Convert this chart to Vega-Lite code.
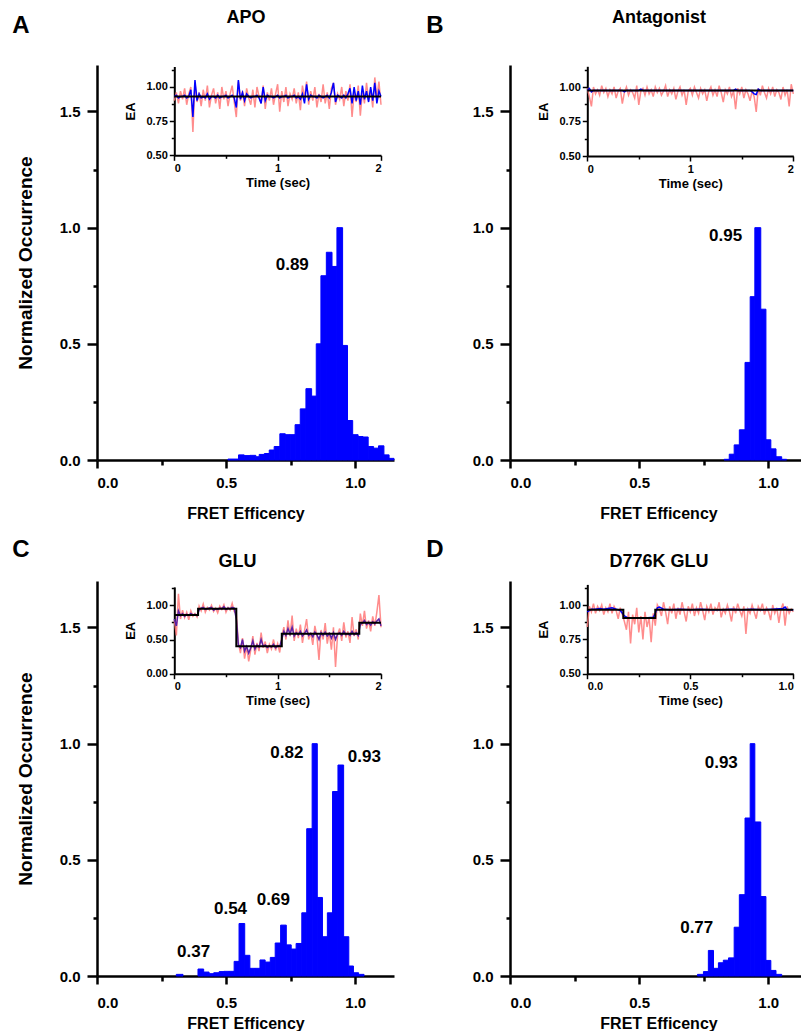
{
"$schema": "https://vega.github.io/schema/vega-lite/v6.json",
"padding": {"left": 12, "top": 8, "right": 0, "bottom": 0},
"config": {
 "font": "Liberation Sans",
 "view": {"stroke": null},
 "title": {"fontWeight": "bold", "fontSize": 24, "color": "black", "anchor": "start", "frame": "bounds"},
 "axis": {"grid": false, "domainColor": "black", "tickColor": "black", "labelColor": "black", "titleColor": "black", "labelFontWeight": "bold", "titleFontWeight": "bold", "labelFont": "Liberation Sans", "titleFont": "Liberation Sans"}
},
"datasets": {
 "histA": [{"x0":0.507,"x1":0.548,"h":0.004},{"x0":0.548,"x1":0.570,"h":0.022},{"x0":0.570,"x1":0.592,"h":0.019},{"x0":0.592,"x1":0.615,"h":0.020},{"x0":0.615,"x1":0.628,"h":0.014},{"x0":0.628,"x1":0.648,"h":0.024},{"x0":0.648,"x1":0.667,"h":0.028},{"x0":0.667,"x1":0.686,"h":0.043},{"x0":0.686,"x1":0.708,"h":0.058},{"x0":0.708,"x1":0.729,"h":0.113},{"x0":0.729,"x1":0.748,"h":0.109},{"x0":0.748,"x1":0.767,"h":0.109},{"x0":0.767,"x1":0.787,"h":0.152},{"x0":0.787,"x1":0.809,"h":0.22},{"x0":0.809,"x1":0.831,"h":0.307},{"x0":0.831,"x1":0.849,"h":0.275},{"x0":0.849,"x1":0.867,"h":0.5},{"x0":0.867,"x1":0.888,"h":0.793},{"x0":0.888,"x1":0.910,"h":0.894},{"x0":0.910,"x1":0.929,"h":0.833},{"x0":0.929,"x1":0.951,"h":1.0},{"x0":0.951,"x1":0.970,"h":0.493},{"x0":0.970,"x1":0.990,"h":0.17},{"x0":0.990,"x1":1.011,"h":0.109},{"x0":1.011,"x1":1.030,"h":0.101},{"x0":1.030,"x1":1.050,"h":0.099},{"x0":1.050,"x1":1.071,"h":0.058},{"x0":1.071,"x1":1.090,"h":0.051},{"x0":1.090,"x1":1.111,"h":0.061},{"x0":1.111,"x1":1.131,"h":0.022},{"x0":1.131,"x1":1.150,"h":0.007}],
 "histB": [{"x0":0.829,"x1":0.849,"h":0.003},{"x0":0.849,"x1":0.868,"h":0.025},{"x0":0.868,"x1":0.888,"h":0.065},{"x0":0.888,"x1":0.910,"h":0.13},{"x0":0.910,"x1":0.930,"h":0.42},{"x0":0.930,"x1":0.948,"h":0.703},{"x0":0.948,"x1":0.971,"h":1.0},{"x0":0.971,"x1":0.991,"h":0.649},{"x0":0.991,"x1":1.010,"h":0.087},{"x0":1.010,"x1":1.030,"h":0.048},{"x0":1.030,"x1":1.052,"h":0.014},{"x0":1.052,"x1":1.071,"h":0.003}],
 "histC": [{"x0":0.307,"x1":0.333,"h":0.007},{"x0":0.391,"x1":0.413,"h":0.03},{"x0":0.413,"x1":0.434,"h":0.017},{"x0":0.434,"x1":0.452,"h":0.01},{"x0":0.452,"x1":0.473,"h":0.014},{"x0":0.473,"x1":0.491,"h":0.019},{"x0":0.491,"x1":0.511,"h":0.02},{"x0":0.511,"x1":0.531,"h":0.02},{"x0":0.531,"x1":0.550,"h":0.063},{"x0":0.550,"x1":0.572,"h":0.226},{"x0":0.572,"x1":0.592,"h":0.089},{"x0":0.592,"x1":0.611,"h":0.033},{"x0":0.611,"x1":0.631,"h":0.033},{"x0":0.631,"x1":0.651,"h":0.069},{"x0":0.651,"x1":0.671,"h":0.06},{"x0":0.671,"x1":0.690,"h":0.08},{"x0":0.690,"x1":0.711,"h":0.142},{"x0":0.711,"x1":0.733,"h":0.219},{"x0":0.733,"x1":0.752,"h":0.134},{"x0":0.752,"x1":0.771,"h":0.116},{"x0":0.771,"x1":0.793,"h":0.14},{"x0":0.793,"x1":0.812,"h":0.272},{"x0":0.812,"x1":0.833,"h":0.634},{"x0":0.833,"x1":0.853,"h":1.0},{"x0":0.853,"x1":0.873,"h":0.338},{"x0":0.873,"x1":0.892,"h":0.169},{"x0":0.892,"x1":0.912,"h":0.272},{"x0":0.912,"x1":0.933,"h":0.794},{"x0":0.933,"x1":0.955,"h":0.908},{"x0":0.955,"x1":0.975,"h":0.169},{"x0":0.975,"x1":0.993,"h":0.043},{"x0":0.993,"x1":1.013,"h":0.014},{"x0":1.013,"x1":1.034,"h":0.007}],
 "histD": [{"x0":0.726,"x1":0.749,"h":0.007},{"x0":0.749,"x1":0.768,"h":0.019},{"x0":0.768,"x1":0.788,"h":0.11},{"x0":0.788,"x1":0.807,"h":0.033},{"x0":0.807,"x1":0.826,"h":0.057},{"x0":0.826,"x1":0.846,"h":0.068},{"x0":0.846,"x1":0.868,"h":0.078},{"x0":0.868,"x1":0.888,"h":0.21},{"x0":0.888,"x1":0.910,"h":0.35},{"x0":0.910,"x1":0.930,"h":0.68},{"x0":0.930,"x1":0.948,"h":1.0},{"x0":0.948,"x1":0.971,"h":0.663},{"x0":0.971,"x1":0.991,"h":0.342},{"x0":0.991,"x1":1.010,"h":0.067},{"x0":1.010,"x1":1.030,"h":0.024},{"x0":1.030,"x1":1.052,"h":0.007}],
 "redA": [{"t":0,"e":0.90},{"t":0.02,"e":0.96},{"t":0.04,"e":0.88},{"t":0.06,"e":0.97},{"t":0.08,"e":0.91},{"t":0.1,"e":0.99},{"t":0.12,"e":0.87},{"t":0.14,"e":0.95},{"t":0.16,"e":1.0},{"t":0.18,"e":0.67},{"t":0.2,"e":1.03},{"t":0.22,"e":0.89},{"t":0.24,"e":0.96},{"t":0.26,"e":0.86},{"t":0.28,"e":0.98},{"t":0.3,"e":0.9},{"t":0.32,"e":1.01},{"t":0.34,"e":0.85},{"t":0.36,"e":0.94},{"t":0.38,"e":0.99},{"t":0.4,"e":0.88},{"t":0.42,"e":0.96},{"t":0.44,"e":0.84},{"t":0.46,"e":1.0},{"t":0.48,"e":0.91},{"t":0.5,"e":0.97},{"t":0.52,"e":0.86},{"t":0.54,"e":0.95},{"t":0.56,"e":1.01},{"t":0.58,"e":0.89},{"t":0.6,"e":0.78},{"t":0.62,"e":1.04},{"t":0.64,"e":0.9},{"t":0.66,"e":0.97},{"t":0.68,"e":0.86},{"t":0.7,"e":0.99},{"t":0.72,"e":0.92},{"t":0.74,"e":0.87},{"t":0.76,"e":0.98},{"t":0.78,"e":0.85},{"t":0.8,"e":1.0},{"t":0.82,"e":0.93},{"t":0.84,"e":0.88},{"t":0.86,"e":1.01},{"t":0.88,"e":0.84},{"t":0.9,"e":0.96},{"t":0.92,"e":0.9},{"t":0.94,"e":0.99},{"t":0.96,"e":0.87},{"t":0.98,"e":0.95},{"t":1.0,"e":1.02},{"t":1.02,"e":0.82},{"t":1.04,"e":0.97},{"t":1.06,"e":0.89},{"t":1.08,"e":1.0},{"t":1.1,"e":0.86},{"t":1.12,"e":0.95},{"t":1.14,"e":0.91},{"t":1.16,"e":0.99},{"t":1.18,"e":0.88},{"t":1.2,"e":0.96},{"t":1.22,"e":0.83},{"t":1.24,"e":1.01},{"t":1.26,"e":0.92},{"t":1.28,"e":1.04},{"t":1.3,"e":0.87},{"t":1.32,"e":0.97},{"t":1.34,"e":0.9},{"t":1.36,"e":1.0},{"t":1.38,"e":0.85},{"t":1.4,"e":0.95},{"t":1.42,"e":0.89},{"t":1.44,"e":1.02},{"t":1.46,"e":0.88},{"t":1.48,"e":0.96},{"t":1.5,"e":0.84},{"t":1.52,"e":0.99},{"t":1.54,"e":1.03},{"t":1.56,"e":0.87},{"t":1.58,"e":0.95},{"t":1.6,"e":0.91},{"t":1.62,"e":1.0},{"t":1.64,"e":0.86},{"t":1.66,"e":0.97},{"t":1.68,"e":0.9},{"t":1.7,"e":1.02},{"t":1.72,"e":0.78},{"t":1.74,"e":0.96},{"t":1.76,"e":0.89},{"t":1.78,"e":1.01},{"t":1.8,"e":0.79},{"t":1.82,"e":0.97},{"t":1.84,"e":0.88},{"t":1.86,"e":1.03},{"t":1.88,"e":0.9},{"t":1.9,"e":0.98},{"t":1.92,"e":0.85},{"t":1.94,"e":1.07},{"t":1.96,"e":0.92},{"t":1.98,"e":1.04},{"t":2.0,"e":0.87}],
 "blueA": [{"t":0,"e":0.93},{"t":0.02,"e":0.94},{"t":0.04,"e":0.92},{"t":0.06,"e":0.93},{"t":0.08,"e":0.93},{"t":0.1,"e":0.94},{"t":0.12,"e":0.92},{"t":0.14,"e":0.93},{"t":0.16,"e":0.98},{"t":0.18,"e":0.78},{"t":0.2,"e":1.05},{"t":0.22,"e":0.9},{"t":0.24,"e":0.95},{"t":0.26,"e":0.92},{"t":0.28,"e":0.93},{"t":0.3,"e":0.92},{"t":0.32,"e":0.95},{"t":0.34,"e":0.91},{"t":0.36,"e":0.93},{"t":0.38,"e":0.93},{"t":0.4,"e":0.92},{"t":0.42,"e":0.94},{"t":0.44,"e":0.92},{"t":0.46,"e":0.93},{"t":0.48,"e":0.93},{"t":0.5,"e":0.94},{"t":0.52,"e":0.92},{"t":0.54,"e":0.93},{"t":0.56,"e":0.94},{"t":0.58,"e":0.92},{"t":0.6,"e":0.85},{"t":0.62,"e":1.05},{"t":0.64,"e":0.91},{"t":0.66,"e":0.96},{"t":0.68,"e":0.9},{"t":0.7,"e":0.95},{"t":0.72,"e":0.93},{"t":0.74,"e":0.92},{"t":0.76,"e":0.93},{"t":0.78,"e":0.93},{"t":0.8,"e":0.94},{"t":0.82,"e":0.92},{"t":0.84,"e":0.88},{"t":0.86,"e":1.0},{"t":0.88,"e":0.9},{"t":0.9,"e":0.94},{"t":0.92,"e":0.93},{"t":0.94,"e":0.93},{"t":0.96,"e":0.92},{"t":0.98,"e":0.93},{"t":1.0,"e":0.94},{"t":1.02,"e":0.92},{"t":1.04,"e":0.93},{"t":1.06,"e":0.93},{"t":1.08,"e":0.94},{"t":1.1,"e":0.92},{"t":1.12,"e":0.93},{"t":1.14,"e":0.93},{"t":1.16,"e":0.94},{"t":1.18,"e":0.92},{"t":1.2,"e":0.93},{"t":1.22,"e":0.91},{"t":1.24,"e":0.95},{"t":1.26,"e":0.88},{"t":1.28,"e":1.02},{"t":1.3,"e":0.91},{"t":1.32,"e":0.94},{"t":1.34,"e":0.93},{"t":1.36,"e":0.93},{"t":1.38,"e":0.92},{"t":1.4,"e":0.94},{"t":1.42,"e":0.93},{"t":1.44,"e":0.92},{"t":1.46,"e":0.93},{"t":1.48,"e":0.94},{"t":1.5,"e":0.92},{"t":1.52,"e":0.96},{"t":1.54,"e":1.03},{"t":1.56,"e":0.89},{"t":1.58,"e":0.94},{"t":1.6,"e":0.93},{"t":1.62,"e":0.92},{"t":1.64,"e":0.94},{"t":1.66,"e":0.92},{"t":1.68,"e":0.95},{"t":1.7,"e":0.99},{"t":1.72,"e":0.88},{"t":1.74,"e":1.0},{"t":1.76,"e":0.9},{"t":1.78,"e":0.97},{"t":1.8,"e":0.87},{"t":1.82,"e":1.01},{"t":1.84,"e":0.91},{"t":1.86,"e":0.97},{"t":1.88,"e":0.89},{"t":1.9,"e":1.0},{"t":1.92,"e":0.9},{"t":1.94,"e":1.03},{"t":1.96,"e":0.88},{"t":1.98,"e":0.97},{"t":2.0,"e":0.93}],
 "fitA": [{"t":0,"e":0.93},{"t":2,"e":0.93}],
 "redB": [{"t":0,"e":0.99},{"t":0.02,"e":0.93},{"t":0.04,"e":0.86},{"t":0.06,"e":1.0},{"t":0.08,"e":0.95},{"t":0.1,"e":0.98},{"t":0.12,"e":0.94},{"t":0.14,"e":1.01},{"t":0.16,"e":0.96},{"t":0.18,"e":0.99},{"t":0.2,"e":0.93},{"t":0.22,"e":0.98},{"t":0.24,"e":0.95},{"t":0.26,"e":1.0},{"t":0.28,"e":0.92},{"t":0.3,"e":0.97},{"t":0.32,"e":0.99},{"t":0.34,"e":0.88},{"t":0.36,"e":0.96},{"t":0.38,"e":1.0},{"t":0.4,"e":0.94},{"t":0.42,"e":0.98},{"t":0.44,"e":0.96},{"t":0.46,"e":0.92},{"t":0.48,"e":1.01},{"t":0.5,"e":0.87},{"t":0.52,"e":0.97},{"t":0.54,"e":0.99},{"t":0.56,"e":0.94},{"t":0.58,"e":1.0},{"t":0.6,"e":0.95},{"t":0.62,"e":0.98},{"t":0.64,"e":0.93},{"t":0.66,"e":1.0},{"t":0.68,"e":0.96},{"t":0.7,"e":0.99},{"t":0.72,"e":0.94},{"t":0.74,"e":0.97},{"t":0.76,"e":1.01},{"t":0.78,"e":0.93},{"t":0.8,"e":0.98},{"t":0.82,"e":0.95},{"t":0.84,"e":0.99},{"t":0.86,"e":0.91},{"t":0.88,"e":0.97},{"t":0.9,"e":1.0},{"t":0.92,"e":0.94},{"t":0.94,"e":0.98},{"t":0.96,"e":0.87},{"t":0.98,"e":0.97},{"t":1.0,"e":0.99},{"t":1.02,"e":0.94},{"t":1.04,"e":1.0},{"t":1.06,"e":0.96},{"t":1.08,"e":0.92},{"t":1.1,"e":0.99},{"t":1.12,"e":0.95},{"t":1.14,"e":0.98},{"t":1.16,"e":0.9},{"t":1.18,"e":0.97},{"t":1.2,"e":1.0},{"t":1.22,"e":0.94},{"t":1.24,"e":0.98},{"t":1.26,"e":0.93},{"t":1.28,"e":1.01},{"t":1.3,"e":0.96},{"t":1.32,"e":0.89},{"t":1.34,"e":0.98},{"t":1.36,"e":0.95},{"t":1.38,"e":1.0},{"t":1.4,"e":0.93},{"t":1.42,"e":0.97},{"t":1.44,"e":0.84},{"t":1.46,"e":0.99},{"t":1.48,"e":0.95},{"t":1.5,"e":1.0},{"t":1.52,"e":0.92},{"t":1.54,"e":0.98},{"t":1.56,"e":0.95},{"t":1.58,"e":0.9},{"t":1.6,"e":0.97},{"t":1.62,"e":0.93},{"t":1.64,"e":0.82},{"t":1.66,"e":0.99},{"t":1.68,"e":0.94},{"t":1.7,"e":1.01},{"t":1.72,"e":0.96},{"t":1.74,"e":0.92},{"t":1.76,"e":0.99},{"t":1.78,"e":0.95},{"t":1.8,"e":1.0},{"t":1.82,"e":0.93},{"t":1.84,"e":0.98},{"t":1.86,"e":0.96},{"t":1.88,"e":0.91},{"t":1.9,"e":1.0},{"t":1.92,"e":0.94},{"t":1.94,"e":0.98},{"t":1.96,"e":0.86},{"t":1.98,"e":1.02},{"t":2.0,"e":0.95}],
 "blueB": [{"t":0,"e":0.975},{"t":0.02,"e":0.99},{"t":0.04,"e":0.965},{"t":0.06,"e":0.975},{"t":0.34,"e":0.975},{"t":0.36,"e":0.965},{"t":0.38,"e":0.975},{"t":0.5,"e":0.975},{"t":0.52,"e":0.985},{"t":0.54,"e":0.975},{"t":1.42,"e":0.975},{"t":1.44,"e":0.985},{"t":1.46,"e":0.975},{"t":1.58,"e":0.975},{"t":1.6,"e":0.965},{"t":1.62,"e":0.95},{"t":1.64,"e":0.945},{"t":1.66,"e":0.985},{"t":1.68,"e":0.975},{"t":2.0,"e":0.975}],
 "fitB": [{"t":0,"e":0.975},{"t":2,"e":0.975}],
 "redC": [{"t":0,"e":0.78},{"t":0.02,"e":0.56},{"t":0.04,"e":1.17},{"t":0.06,"e":0.8},{"t":0.08,"e":0.93},{"t":0.1,"e":0.82},{"t":0.12,"e":0.9},{"t":0.14,"e":0.79},{"t":0.16,"e":0.92},{"t":0.18,"e":0.84},{"t":0.2,"e":0.88},{"t":0.22,"e":0.83},{"t":0.24,"e":0.99},{"t":0.26,"e":0.92},{"t":0.28,"e":1.02},{"t":0.3,"e":0.9},{"t":0.32,"e":0.97},{"t":0.34,"e":0.93},{"t":0.36,"e":1.0},{"t":0.38,"e":0.91},{"t":0.4,"e":0.96},{"t":0.42,"e":0.89},{"t":0.44,"e":0.99},{"t":0.46,"e":0.94},{"t":0.48,"e":1.01},{"t":0.5,"e":0.9},{"t":0.52,"e":0.97},{"t":0.54,"e":0.93},{"t":0.56,"e":1.03},{"t":0.58,"e":0.91},{"t":0.6,"e":0.88},{"t":0.62,"e":0.45},{"t":0.64,"e":0.3},{"t":0.66,"e":0.52},{"t":0.68,"e":0.22},{"t":0.7,"e":0.4},{"t":0.72,"e":0.18},{"t":0.74,"e":0.35},{"t":0.76,"e":0.55},{"t":0.78,"e":0.28},{"t":0.8,"e":0.45},{"t":0.82,"e":0.33},{"t":0.84,"e":0.6},{"t":0.86,"e":0.38},{"t":0.88,"e":0.47},{"t":0.9,"e":0.3},{"t":0.92,"e":0.43},{"t":0.94,"e":0.36},{"t":0.96,"e":0.5},{"t":0.98,"e":0.34},{"t":1.0,"e":0.44},{"t":1.02,"e":0.31},{"t":1.04,"e":0.55},{"t":1.06,"e":0.68},{"t":1.08,"e":0.5},{"t":1.1,"e":0.78},{"t":1.12,"e":0.55},{"t":1.14,"e":0.85},{"t":1.16,"e":0.48},{"t":1.18,"e":0.66},{"t":1.2,"e":0.52},{"t":1.22,"e":0.72},{"t":1.24,"e":0.45},{"t":1.26,"e":0.63},{"t":1.28,"e":0.8},{"t":1.3,"e":0.5},{"t":1.32,"e":0.6},{"t":1.34,"e":0.42},{"t":1.36,"e":0.7},{"t":1.38,"e":0.55},{"t":1.4,"e":0.2},{"t":1.42,"e":0.64},{"t":1.44,"e":0.5},{"t":1.46,"e":0.74},{"t":1.48,"e":0.44},{"t":1.5,"e":0.61},{"t":1.52,"e":0.35},{"t":1.54,"e":0.68},{"t":1.56,"e":0.1},{"t":1.58,"e":0.57},{"t":1.6,"e":0.66},{"t":1.62,"e":0.48},{"t":1.64,"e":0.75},{"t":1.66,"e":0.53},{"t":1.68,"e":0.62},{"t":1.7,"e":0.45},{"t":1.72,"e":0.83},{"t":1.74,"e":0.55},{"t":1.76,"e":0.65},{"t":1.78,"e":0.5},{"t":1.8,"e":0.88},{"t":1.82,"e":0.7},{"t":1.84,"e":0.92},{"t":1.86,"e":0.66},{"t":1.88,"e":0.78},{"t":1.9,"e":0.62},{"t":1.92,"e":0.84},{"t":1.94,"e":0.7},{"t":1.96,"e":0.9},{"t":1.98,"e":1.15},{"t":2.0,"e":0.68}],
 "purC": [{"t":0,"e":0.8},{"t":0.02,"e":0.7},{"t":0.04,"e":0.92},{"t":0.06,"e":0.85},{"t":0.08,"e":0.88},{"t":0.1,"e":0.84},{"t":0.12,"e":0.87},{"t":0.14,"e":0.85},{"t":0.16,"e":0.88},{"t":0.18,"e":0.86},{"t":0.2,"e":0.87},{"t":0.22,"e":0.85},{"t":0.24,"e":0.93},{"t":0.26,"e":0.96},{"t":0.28,"e":0.97},{"t":0.3,"e":0.94},{"t":0.32,"e":0.95},{"t":0.34,"e":0.96},{"t":0.36,"e":0.97},{"t":0.38,"e":0.93},{"t":0.4,"e":0.95},{"t":0.42,"e":0.94},{"t":0.44,"e":0.96},{"t":0.46,"e":0.95},{"t":0.48,"e":0.98},{"t":0.5,"e":0.94},{"t":0.52,"e":0.96},{"t":0.54,"e":0.95},{"t":0.56,"e":0.97},{"t":0.58,"e":0.96},{"t":0.6,"e":0.8},{"t":0.62,"e":0.42},{"t":0.64,"e":0.38},{"t":0.66,"e":0.5},{"t":0.68,"e":0.33},{"t":0.7,"e":0.4},{"t":0.72,"e":0.3},{"t":0.74,"e":0.38},{"t":0.76,"e":0.48},{"t":0.78,"e":0.36},{"t":0.8,"e":0.42},{"t":0.82,"e":0.39},{"t":0.84,"e":0.5},{"t":0.86,"e":0.4},{"t":0.88,"e":0.42},{"t":0.9,"e":0.38},{"t":0.92,"e":0.41},{"t":0.94,"e":0.39},{"t":0.96,"e":0.43},{"t":0.98,"e":0.38},{"t":1.0,"e":0.41},{"t":1.02,"e":0.4},{"t":1.04,"e":0.5},{"t":1.06,"e":0.62},{"t":1.08,"e":0.56},{"t":1.1,"e":0.66},{"t":1.12,"e":0.58},{"t":1.14,"e":0.68},{"t":1.16,"e":0.55},{"t":1.18,"e":0.6},{"t":1.2,"e":0.57},{"t":1.22,"e":0.62},{"t":1.24,"e":0.55},{"t":1.26,"e":0.59},{"t":1.28,"e":0.64},{"t":1.3,"e":0.56},{"t":1.32,"e":0.59},{"t":1.34,"e":0.54},{"t":1.36,"e":0.61},{"t":1.38,"e":0.57},{"t":1.4,"e":0.5},{"t":1.42,"e":0.6},{"t":1.44,"e":0.56},{"t":1.46,"e":0.61},{"t":1.48,"e":0.55},{"t":1.5,"e":0.59},{"t":1.52,"e":0.52},{"t":1.54,"e":0.6},{"t":1.56,"e":0.5},{"t":1.58,"e":0.58},{"t":1.6,"e":0.6},{"t":1.62,"e":0.56},{"t":1.64,"e":0.62},{"t":1.66,"e":0.57},{"t":1.68,"e":0.59},{"t":1.7,"e":0.56},{"t":1.72,"e":0.62},{"t":1.74,"e":0.57},{"t":1.76,"e":0.6},{"t":1.78,"e":0.56},{"t":1.8,"e":0.72},{"t":1.82,"e":0.74},{"t":1.84,"e":0.78},{"t":1.86,"e":0.72},{"t":1.88,"e":0.75},{"t":1.9,"e":0.71},{"t":1.92,"e":0.76},{"t":1.94,"e":0.73},{"t":1.96,"e":0.77},{"t":1.98,"e":0.8},{"t":2.0,"e":0.7}],
 "fitC": [{"t":0,"e":0.86},{"t":0.23,"e":0.95},{"t":0.6,"e":0.4},{"t":1.04,"e":0.585},{"t":1.79,"e":0.745},{"t":2.0,"e":0.745}],
 "redD": [{"t":0,"e":0.84},{"t":0.01,"e":0.99},{"t":0.02,"e":0.95},{"t":0.03,"e":1.01},{"t":0.04,"e":0.94},{"t":0.05,"e":0.99},{"t":0.06,"e":0.96},{"t":0.07,"e":1.0},{"t":0.08,"e":0.93},{"t":0.09,"e":0.98},{"t":0.1,"e":0.95},{"t":0.11,"e":1.01},{"t":0.12,"e":0.94},{"t":0.13,"e":0.99},{"t":0.14,"e":0.96},{"t":0.15,"e":0.9},{"t":0.16,"e":0.98},{"t":0.17,"e":0.93},{"t":0.18,"e":0.88},{"t":0.19,"e":0.82},{"t":0.2,"e":0.95},{"t":0.21,"e":0.72},{"t":0.22,"e":0.93},{"t":0.23,"e":0.86},{"t":0.24,"e":0.98},{"t":0.25,"e":0.8},{"t":0.26,"e":0.92},{"t":0.27,"e":0.75},{"t":0.28,"e":0.95},{"t":0.29,"e":0.84},{"t":0.3,"e":0.91},{"t":0.31,"e":0.73},{"t":0.32,"e":0.94},{"t":0.33,"e":0.85},{"t":0.34,"e":1.0},{"t":0.35,"e":0.97},{"t":0.36,"e":0.92},{"t":0.37,"e":1.02},{"t":0.38,"e":0.95},{"t":0.39,"e":0.86},{"t":0.4,"e":0.99},{"t":0.41,"e":0.94},{"t":0.42,"e":1.01},{"t":0.43,"e":0.9},{"t":0.44,"e":0.98},{"t":0.45,"e":0.93},{"t":0.46,"e":1.02},{"t":0.47,"e":0.95},{"t":0.48,"e":0.88},{"t":0.49,"e":0.99},{"t":0.5,"e":0.95},{"t":0.51,"e":1.01},{"t":0.52,"e":0.92},{"t":0.53,"e":0.98},{"t":0.54,"e":0.94},{"t":0.55,"e":1.02},{"t":0.56,"e":0.96},{"t":0.57,"e":0.89},{"t":0.58,"e":0.99},{"t":0.59,"e":0.95},{"t":0.6,"e":1.01},{"t":0.61,"e":0.93},{"t":0.62,"e":0.98},{"t":0.63,"e":0.96},{"t":0.64,"e":1.02},{"t":0.65,"e":0.91},{"t":0.66,"e":0.97},{"t":0.67,"e":0.94},{"t":0.68,"e":1.0},{"t":0.69,"e":0.95},{"t":0.7,"e":0.88},{"t":0.71,"e":0.99},{"t":0.72,"e":0.94},{"t":0.73,"e":1.01},{"t":0.74,"e":0.96},{"t":0.75,"e":0.92},{"t":0.76,"e":0.99},{"t":0.77,"e":0.79},{"t":0.78,"e":0.97},{"t":0.79,"e":0.94},{"t":0.8,"e":1.0},{"t":0.81,"e":0.95},{"t":0.82,"e":0.9},{"t":0.83,"e":0.99},{"t":0.84,"e":0.96},{"t":0.85,"e":1.01},{"t":0.86,"e":0.93},{"t":0.87,"e":0.98},{"t":0.88,"e":0.95},{"t":0.89,"e":0.89},{"t":0.9,"e":1.0},{"t":0.91,"e":0.94},{"t":0.92,"e":0.98},{"t":0.93,"e":0.87},{"t":0.94,"e":0.97},{"t":0.95,"e":1.01},{"t":0.96,"e":0.85},{"t":0.97,"e":0.99},{"t":0.98,"e":0.94},{"t":0.99,"e":0.97},{"t":1.0,"e":0.95}],
 "blueD": [{"t":0,"e":0.95},{"t":0.02,"e":0.97},{"t":0.04,"e":0.97},{"t":0.06,"e":0.975},{"t":0.08,"e":0.97},{"t":0.1,"e":0.975},{"t":0.12,"e":0.98},{"t":0.14,"e":0.97},{"t":0.16,"e":0.96},{"t":0.18,"e":0.92},{"t":0.2,"e":0.905},{"t":0.24,"e":0.905},{"t":0.28,"e":0.905},{"t":0.32,"e":0.91},{"t":0.33,"e":0.94},{"t":0.34,"e":0.98},{"t":0.35,"e":0.985},{"t":0.37,"e":0.97},{"t":0.4,"e":0.965},{"t":0.45,"e":0.97},{"t":0.5,"e":0.965},{"t":0.55,"e":0.97},{"t":0.6,"e":0.965},{"t":0.65,"e":0.965},{"t":0.7,"e":0.97},{"t":0.75,"e":0.965},{"t":0.8,"e":0.97},{"t":0.85,"e":0.965},{"t":0.9,"e":0.97},{"t":0.95,"e":0.975},{"t":0.96,"e":0.985},{"t":0.97,"e":0.965},{"t":1.0,"e":0.965}],
 "fitD": [{"t":0,"e":0.965},{"t":0.175,"e":0.905},{"t":0.33,"e":0.965},{"t":1.0,"e":0.965}]
},
"columns": 2,
"spacing": {"row": 121, "column": 116},
"bounds": "flush",
"concat": [
 {
  "width": 297, "height": 395,
  "title": {"text": "A", "dx": -4, "offset": -30},
  "layer": [
   {"layer": [
     {"data": {"name": "histA"}, "mark": {"type": "rect", "color": "#0000ff", "stroke": "#0000ff", "strokeWidth": 1},
      "encoding": {
       "x": {"field": "x0", "type": "quantitative", "scale": {"domain": [0, 1.15], "nice": false},
             "axis": {"orient": "bottom", "title": "FRET Efficency", "values": [0, 0.25, 0.5, 0.75, 1], "labelExpr": "datum.value*2==round(datum.value*2)?format(datum.value,'.1f'):''", "tickSize": {"condition": {"test": "datum.value*2==round(datum.value*2)", "value": 8}, "value": 5}, "labelPadding": 7, "labelFontSize": 15, "titleFontSize": 16, "titlePadding": 15, "domainWidth": 2.5, "tickWidth": 2.5}},
       "x2": {"field": "x1"},
       "y": {"field": "h", "type": "quantitative", "scale": {"domain": [0, 1.7], "nice": false},
             "axis": {"orient": "left", "title": "Normalized Occurrence", "values": [0, 0.25, 0.5, 0.75, 1, 1.25, 1.5], "labelExpr": "datum.value*2==round(datum.value*2)?format(datum.value,'.1f'):''", "tickSize": {"condition": {"test": "datum.value*2==round(datum.value*2)", "value": 10}, "value": 4}, "labelPadding": 7, "labelFontSize": 15, "titleFontSize": 19, "titlePadding": 24, "domainWidth": 2.5, "tickWidth": 2.5}},
       "y2": {"datum": 0}
      }},
     {"data": {"values": [{"label": "0.89", "px": 0.756, "py": 0.838}]},
      "mark": {"type": "text", "fontSize": 17, "fontWeight": "bold", "font": "Liberation Sans", "color": "black"},
      "encoding": {
       "x": {"field": "px", "type": "quantitative", "axis": {"orient": "top", "title": "APO", "domain": false, "ticks": false, "labels": false, "titleFontSize": 18, "titlePadding": 39}},
       "y": {"field": "py", "type": "quantitative", "axis": null},
       "text": {"field": "label"}
      }}
    ],
    "resolve": {"axis": {"x": "independent", "y": "independent"}}},
   {"layer": [
     {"data": {"name": "redA"}, "mark": {"type": "line", "color": "#ff7878", "strokeWidth": 1.5, "opacity": 0.85},
      "encoding": {
       "x": {"field": "t", "type": "quantitative", "scale": {"domain": [0, 2], "range": [77.3, 284], "nice": false},
             "axis": {"orient": "bottom", "offset": -304.7, "title": "Time (sec)", "values": [0, 0.5, 1, 1.5, 2], "labelExpr": "datum.value==round(datum.value)?format(datum.value,'.0f'):''", "tickSize": {"condition": {"test": "datum.value==round(datum.value)", "value": 5}, "value": 3}, "labelPadding": 2, "labelFontSize": 11, "titleFontSize": 13, "titlePadding": 3, "domainWidth": 2, "tickWidth": 1.5}},
       "y": {"field": "e", "type": "quantitative", "scale": {"domain": [0.5, 1.15], "range": [90.3, 1.5], "nice": false, "zero": false},
             "axis": {"orient": "left", "offset": -77.3, "title": "EA", "values": [0.5, 0.625, 0.75, 0.875, 1, 1.125], "labelExpr": "datum.value*4==round(datum.value*4)?format(datum.value,'.2f'):''", "tickSize": {"condition": {"test": "datum.value*4==round(datum.value*4)", "value": 5}, "value": 3}, "labelPadding": 2, "labelFontSize": 11, "titleFontSize": 13, "titlePadding": 8, "domainWidth": 2, "tickWidth": 1.5}}
      }},
     {"data": {"name": "blueA"}, "mark": {"type": "line", "color": "#0000ff", "strokeWidth": 1.5},
      "encoding": {"x": {"field": "t", "type": "quantitative"}, "y": {"field": "e", "type": "quantitative"}}},
     {"data": {"name": "fitA"}, "mark": {"type": "line", "color": "black", "strokeWidth": 2},
      "encoding": {"x": {"field": "t", "type": "quantitative"}, "y": {"field": "e", "type": "quantitative"}}}
    ]}
  ],
  "resolve": {"scale": {"x": "independent", "y": "independent"}, "axis": {"x": "independent", "y": "independent"}}
 },
 {
  "width": 297, "height": 395,
  "title": {"text": "B", "dx": -46, "offset": -30},
  "layer": [
   {"layer": [
     {"data": {"name": "histB"}, "mark": {"type": "rect", "color": "#0000ff", "stroke": "#0000ff", "strokeWidth": 1},
      "encoding": {
       "x": {"field": "x0", "type": "quantitative", "scale": {"domain": [0, 1.15], "nice": false},
             "axis": {"orient": "bottom", "title": "FRET Efficency", "values": [0, 0.25, 0.5, 0.75, 1], "labelExpr": "datum.value*2==round(datum.value*2)?format(datum.value,'.1f'):''", "tickSize": {"condition": {"test": "datum.value*2==round(datum.value*2)", "value": 8}, "value": 5}, "labelPadding": 7, "labelFontSize": 15, "titleFontSize": 16, "titlePadding": 15, "domainWidth": 2.5, "tickWidth": 2.5}},
       "x2": {"field": "x1"},
       "y": {"field": "h", "type": "quantitative", "scale": {"domain": [0, 1.7], "nice": false},
             "axis": {"orient": "left", "title": null, "values": [0, 0.25, 0.5, 0.75, 1, 1.25, 1.5], "labelExpr": "datum.value*2==round(datum.value*2)?format(datum.value,'.1f'):''", "tickSize": {"condition": {"test": "datum.value*2==round(datum.value*2)", "value": 10}, "value": 4}, "labelPadding": 7, "labelFontSize": 15, "domainWidth": 2.5, "tickWidth": 2.5}},
       "y2": {"datum": 0}
      }},
     {"data": {"values": [{"label": "0.95", "px": 0.835, "py": 0.963}]},
      "mark": {"type": "text", "fontSize": 17, "fontWeight": "bold", "font": "Liberation Sans", "color": "black"},
      "encoding": {
       "x": {"field": "px", "type": "quantitative", "axis": {"orient": "top", "title": "Antagonist", "domain": false, "ticks": false, "labels": false, "titleFontSize": 18, "titlePadding": 39}},
       "y": {"field": "py", "type": "quantitative", "axis": null},
       "text": {"field": "label"}
      }}
    ],
    "resolve": {"axis": {"x": "independent", "y": "independent"}}},
   {"layer": [
     {"data": {"name": "redB"}, "mark": {"type": "line", "color": "#ff7878", "strokeWidth": 1.5, "opacity": 0.85},
      "encoding": {
       "x": {"field": "t", "type": "quantitative", "scale": {"domain": [0, 2], "range": [77.3, 283.3], "nice": false},
             "axis": {"orient": "bottom", "offset": -304, "title": "Time (sec)", "values": [0, 0.5, 1, 1.5, 2], "labelExpr": "datum.value==round(datum.value)?format(datum.value,'.0f'):''", "tickSize": {"condition": {"test": "datum.value==round(datum.value)", "value": 5}, "value": 3}, "labelPadding": 2, "labelFontSize": 11, "titleFontSize": 13, "titlePadding": 3, "domainWidth": 2, "tickWidth": 1.5}},
       "y": {"field": "e", "type": "quantitative", "scale": {"domain": [0.5, 1.15], "range": [91, 1.3], "nice": false, "zero": false},
             "axis": {"orient": "left", "offset": -77.3, "title": "EA", "values": [0.5, 0.625, 0.75, 0.875, 1, 1.125], "labelExpr": "datum.value*4==round(datum.value*4)?format(datum.value,'.2f'):''", "tickSize": {"condition": {"test": "datum.value*4==round(datum.value*4)", "value": 5}, "value": 3}, "labelPadding": 2, "labelFontSize": 11, "titleFontSize": 13, "titlePadding": 8, "domainWidth": 2, "tickWidth": 1.5}}
      }},
     {"data": {"name": "blueB"}, "mark": {"type": "line", "color": "#0000ff", "strokeWidth": 1.5},
      "encoding": {"x": {"field": "t", "type": "quantitative"}, "y": {"field": "e", "type": "quantitative"}}},
     {"data": {"name": "fitB"}, "mark": {"type": "line", "color": "black", "strokeWidth": 2},
      "encoding": {"x": {"field": "t", "type": "quantitative"}, "y": {"field": "e", "type": "quantitative"}}}
    ]}
  ],
  "resolve": {"scale": {"x": "independent", "y": "independent"}, "axis": {"x": "independent", "y": "independent"}}
 },
 {
  "width": 297, "height": 395,
  "title": {"text": "C", "dx": -4, "offset": -10},
  "layer": [
   {"layer": [
     {"data": {"name": "histC"}, "mark": {"type": "rect", "color": "#0000ff", "stroke": "#0000ff", "strokeWidth": 1},
      "encoding": {
       "x": {"field": "x0", "type": "quantitative", "scale": {"domain": [0, 1.15], "nice": false},
             "axis": {"orient": "bottom", "title": "FRET Efficency", "values": [0, 0.25, 0.5, 0.75, 1], "labelExpr": "datum.value*2==round(datum.value*2)?format(datum.value,'.1f'):''", "tickSize": {"condition": {"test": "datum.value*2==round(datum.value*2)", "value": 8}, "value": 5}, "labelPadding": 11, "labelFontSize": 15, "titleFontSize": 16, "titlePadding": 5, "domainWidth": 2.5, "tickWidth": 2.5}},
       "x2": {"field": "x1"},
       "y": {"field": "h", "type": "quantitative", "scale": {"domain": [0, 1.7], "nice": false},
             "axis": {"orient": "left", "title": "Normalized Occurrence", "values": [0, 0.25, 0.5, 0.75, 1, 1.25, 1.5], "labelExpr": "datum.value*2==round(datum.value*2)?format(datum.value,'.1f'):''", "tickSize": {"condition": {"test": "datum.value*2==round(datum.value*2)", "value": 10}, "value": 4}, "labelPadding": 7, "labelFontSize": 15, "titleFontSize": 19, "titlePadding": 24, "domainWidth": 2.5, "tickWidth": 2.5}},
       "y2": {"datum": 0}
      }},
     {"data": {"values": [{"label": "0.37", "px": 0.374, "py": 0.102}, {"label": "0.54", "px": 0.517, "py": 0.288}, {"label": "0.69", "px": 0.683, "py": 0.327}, {"label": "0.82", "px": 0.735, "py": 0.961}, {"label": "0.93", "px": 1.035, "py": 0.943}]},
      "mark": {"type": "text", "fontSize": 17, "fontWeight": "bold", "font": "Liberation Sans", "color": "black"},
      "encoding": {
       "x": {"field": "px", "type": "quantitative", "axis": {"orient": "top", "title": "GLU", "titleX": 140, "domain": false, "ticks": false, "labels": false, "titleFontSize": 18, "titlePadding": 11}},
       "y": {"field": "py", "type": "quantitative", "axis": null},
       "text": {"field": "label"}
      }}
    ],
    "resolve": {"axis": {"x": "independent", "y": "independent"}}},
   {"layer": [
     {"data": {"name": "redC"}, "mark": {"type": "line", "color": "#ff7878", "strokeWidth": 1.5, "opacity": 0.85},
      "encoding": {
       "x": {"field": "t", "type": "quantitative", "scale": {"domain": [0, 2], "range": [77.3, 284], "nice": false},
             "axis": {"orient": "bottom", "offset": -302.3, "title": "Time (sec)", "values": [0, 0.5, 1, 1.5, 2], "labelExpr": "datum.value==round(datum.value)?format(datum.value,'.0f'):''", "tickSize": {"condition": {"test": "datum.value==round(datum.value)", "value": 5}, "value": 3}, "labelPadding": 2, "labelFontSize": 11, "titleFontSize": 13, "titlePadding": 3, "domainWidth": 2, "tickWidth": 1.5}},
       "y": {"field": "e", "type": "quantitative", "scale": {"domain": [0, 1.27], "range": [92.7, 5.9], "nice": false, "zero": false},
             "axis": {"orient": "left", "offset": -77.3, "title": "EA", "values": [0, 0.25, 0.5, 0.75, 1, 1.25], "labelExpr": "datum.value*2==round(datum.value*2)?format(datum.value,'.2f'):''", "tickSize": {"condition": {"test": "datum.value*2==round(datum.value*2)", "value": 5}, "value": 3}, "labelPadding": 2, "labelFontSize": 11, "titleFontSize": 13, "titlePadding": 8, "domainWidth": 2, "tickWidth": 1.5}}
      }},
     {"data": {"name": "purC"}, "mark": {"type": "line", "color": "#5a22a8", "strokeWidth": 1.5},
      "encoding": {"x": {"field": "t", "type": "quantitative"}, "y": {"field": "e", "type": "quantitative"}}},
     {"data": {"name": "fitC"}, "mark": {"type": "line", "color": "black", "strokeWidth": 2, "interpolate": "step-after"},
      "encoding": {"x": {"field": "t", "type": "quantitative"}, "y": {"field": "e", "type": "quantitative"}}}
    ]}
  ],
  "resolve": {"scale": {"x": "independent", "y": "independent"}, "axis": {"x": "independent", "y": "independent"}}
 },
 {
  "width": 297, "height": 395,
  "title": {"text": "D", "dx": -46, "offset": -10},
  "layer": [
   {"layer": [
     {"data": {"name": "histD"}, "mark": {"type": "rect", "color": "#0000ff", "stroke": "#0000ff", "strokeWidth": 1},
      "encoding": {
       "x": {"field": "x0", "type": "quantitative", "scale": {"domain": [0, 1.15], "nice": false},
             "axis": {"orient": "bottom", "title": "FRET Efficency", "values": [0, 0.25, 0.5, 0.75, 1], "labelExpr": "datum.value*2==round(datum.value*2)?format(datum.value,'.1f'):''", "tickSize": {"condition": {"test": "datum.value*2==round(datum.value*2)", "value": 8}, "value": 5}, "labelPadding": 11, "labelFontSize": 15, "titleFontSize": 16, "titlePadding": 5, "domainWidth": 2.5, "tickWidth": 2.5}},
       "x2": {"field": "x1"},
       "y": {"field": "h", "type": "quantitative", "scale": {"domain": [0, 1.7], "nice": false},
             "axis": {"orient": "left", "title": null, "values": [0, 0.25, 0.5, 0.75, 1, 1.25, 1.5], "labelExpr": "datum.value*2==round(datum.value*2)?format(datum.value,'.1f'):''", "tickSize": {"condition": {"test": "datum.value*2==round(datum.value*2)", "value": 10}, "value": 4}, "labelPadding": 7, "labelFontSize": 15, "domainWidth": 2.5, "tickWidth": 2.5}},
       "y2": {"datum": 0}
      }},
     {"data": {"values": [{"label": "0.93", "px": 0.818, "py": 0.918}, {"label": "0.77", "px": 0.723, "py": 0.205}]},
      "mark": {"type": "text", "fontSize": 17, "fontWeight": "bold", "font": "Liberation Sans", "color": "black"},
      "encoding": {
       "x": {"field": "px", "type": "quantitative", "axis": {"orient": "top", "title": "D776K GLU", "domain": false, "ticks": false, "labels": false, "titleFontSize": 18, "titlePadding": 11}},
       "y": {"field": "py", "type": "quantitative", "axis": null},
       "text": {"field": "label"}
      }}
    ],
    "resolve": {"axis": {"x": "independent", "y": "independent"}}},
   {"layer": [
     {"data": {"name": "redD"}, "mark": {"type": "line", "color": "#ff7878", "strokeWidth": 1.5, "opacity": 0.85},
      "encoding": {
       "x": {"field": "t", "type": "quantitative", "scale": {"domain": [0, 1], "range": [77.3, 283.3], "nice": false},
             "axis": {"orient": "bottom", "offset": -302.3, "title": "Time (sec)", "values": [0, 0.25, 0.5, 0.75, 1], "labelExpr": "datum.value*2==round(datum.value*2)?format(datum.value,'.1f'):''", "tickSize": {"condition": {"test": "datum.value*2==round(datum.value*2)", "value": 5}, "value": 3}, "labelPadding": 2, "labelFontSize": 11, "titleFontSize": 13, "titlePadding": 3, "domainWidth": 2, "tickWidth": 1.5}},
       "y": {"field": "e", "type": "quantitative", "scale": {"domain": [0.5, 1.15], "range": [92.7, 3.4], "nice": false, "zero": false},
             "axis": {"orient": "left", "offset": -77.3, "title": "EA", "values": [0.5, 0.625, 0.75, 0.875, 1, 1.125], "labelExpr": "datum.value*4==round(datum.value*4)?format(datum.value,'.2f'):''", "tickSize": {"condition": {"test": "datum.value*4==round(datum.value*4)", "value": 5}, "value": 3}, "labelPadding": 2, "labelFontSize": 11, "titleFontSize": 13, "titlePadding": 8, "domainWidth": 2, "tickWidth": 1.5}}
      }},
     {"data": {"name": "blueD"}, "mark": {"type": "line", "color": "#0000ff", "strokeWidth": 1.5},
      "encoding": {"x": {"field": "t", "type": "quantitative"}, "y": {"field": "e", "type": "quantitative"}}},
     {"data": {"name": "fitD"}, "mark": {"type": "line", "color": "black", "strokeWidth": 2, "interpolate": "step-after"},
      "encoding": {"x": {"field": "t", "type": "quantitative"}, "y": {"field": "e", "type": "quantitative"}}}
    ]}
  ],
  "resolve": {"scale": {"x": "independent", "y": "independent"}, "axis": {"x": "independent", "y": "independent"}}
 }
]
}
